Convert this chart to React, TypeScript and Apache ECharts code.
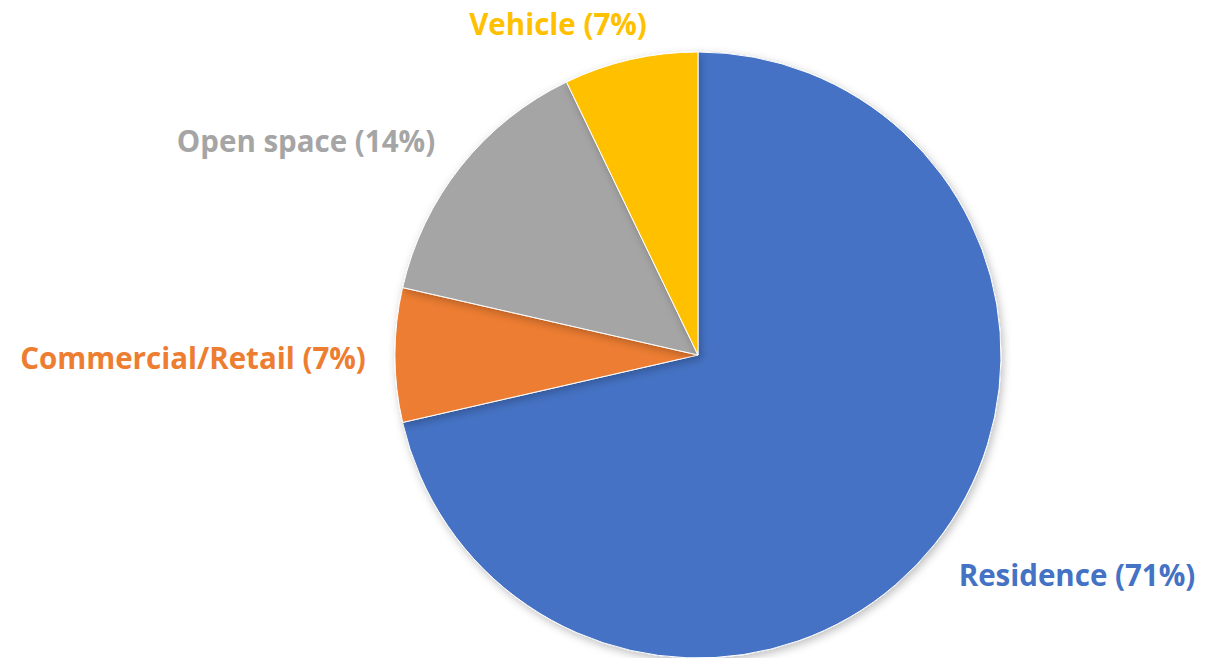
import React, { useEffect, useRef } from "react";
import * as echarts from "echarts";

const categories = ["Residence", "Commercial/Retail", "Open space", "Vehicle"];
const values = [10, 1, 2, 1];
const colors = ["#4472C4", "#ED7D31", "#A5A5A5", "#FFC000"];
const labelPos: [number, number][] = [
  [1077, 574],
  [193, 357],
  [306, 140],
  [558, 23],
];

export default function App() {
  const ref = useRef<HTMLDivElement>(null);
  useEffect(() => {
    if (!ref.current) return;
    const chart = echarts.init(ref.current, null, { renderer: "svg" });
    chart.setOption({
      animation: false,
      backgroundColor: "#ffffff",
      series: [
        {
          type: "pie",
          center: [698, 355],
          radius: 303,
          startAngle: 90,
          clockwise: true,
          data: categories.map((c, i) => ({
            name: c,
            value: values[i],
            itemStyle: { color: colors[i] },
            label: { color: colors[i] },
          })),
          itemStyle: {
            borderColor: "#ffffff",
            borderWidth: 1,
            shadowBlur: 8,
            shadowOffsetX: 2,
            shadowOffsetY: 3,
            shadowColor: "rgba(0,0,0,0.25)",
          },
          label: {
            show: true,
            position: "inside",
            overflow: "none",
            fontFamily: "Open Sans",
            fontWeight: "bold",
            fontSize: 29.5,
            textBorderWidth: 0,
            formatter: (p: any) => `${p.name} (${Math.round(p.percent)}%)`,
          },
          labelLine: { show: false },
          labelLayout: (params: any) => {
            const pos = labelPos[params.dataIndex];
            return { x: pos[0], y: pos[1], align: "center", verticalAlign: "middle" };
          },
        },
      ],
    });
    return () => chart.dispose();
  }, []);
  return (
    <div
      ref={ref}
      style={{ position: "absolute", left: 0, top: 0, width: 1205, height: 658 }}
    />
  );
}
